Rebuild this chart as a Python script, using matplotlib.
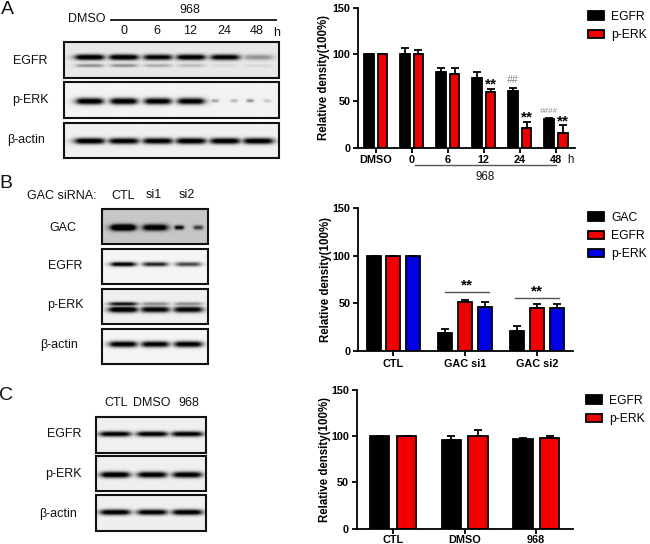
import numpy as np
import matplotlib
matplotlib.use('Agg')
import matplotlib.pyplot as plt
from matplotlib.patches import Rectangle

plt.rcParams['font.family'] = ['Liberation Sans', 'DejaVu Sans']

W, H = 650, 544
BLACK, RED, BLUE = '#000000', '#f00000', '#0000e6'

# ---------- bar chart data ----------
a_groups = ['DMSO', '0', '6', '12', '24', '48']
a_egfr = [100, 100, 81, 75, 61, 31]
a_egfr_err = [0, 7, 4, 6, 3, 1]
a_perk = [100, 100, 79, 60, 21, 16]
a_perk_err = [0, 5, 6, 3, 7, 8]

b_groups = ['CTL', 'GAC si1', 'GAC si2']
b_gac = [100, 19, 21]
b_gac_err = [0, 4, 5]
b_egfr = [100, 51, 45]
b_egfr_err = [0, 3, 4]
b_perk = [100, 46, 45]
b_perk_err = [0, 5, 4]

c_groups = ['CTL', 'DMSO', '968']
c_egfr = [100, 96, 96.5]
c_egfr_err = [0, 4, 2]
c_perk = [100, 100, 98]
c_perk_err = [0, 6.5, 2]

# ---------- blot band strengths (0-1), one per lane ----------
a_blot_egfr = [.98, .98, .88, .95, .9, .3]
a_blot_egfr_low = [.32, .32, .22, .16, .05, .06]
a_blot_perk = [.98, .98, .95, .95]
a_blot_perk_spots = [.3, .22, .35, .15]
a_blot_actin = [.95, .92, .92, .95, .95, .95]
b_blot_gac = [1.05, .85]
b_blot_gac_spots = [.7, .5]
b_blot_egfr = [.95, .75, .62]
b_blot_perk_up = [.8, .35, .35]
b_blot_perk = [1.0, .9, .9]
b_blot_actin = [.95, .92, .95]
c_blot_egfr = [.92, .92, .92]
c_blot_perk = [1.0, .95, .95]
c_blot_actin = [.95, .92, .95]

fig = plt.figure(figsize=(W / 100, H / 100), dpi=100)


def px_axes(l, t, r, b, **kw):
    return fig.add_axes([l / W, 1 - b / H, (r - l) / W, (b - t) / H], **kw)


ov = px_axes(0, 0, W, H)
ov.axis('off')


def blot(box, bands, bg=.96):
    """box: l,t,r,b px. bands: list of (y_px, lanes, strengths, lane_w, half_thickness)."""
    l, t, r, b = box
    xs = np.arange(l, r, .5)
    ys = np.arange(t, b, .5)
    dark = np.zeros((len(ys), len(xs)))
    for yc, lanes, strengths, lane_w, thick in bands:
        for xc, s in zip(lanes, strengths):
            prof_x = 1 / (1 + ((xs - xc) / (lane_w / 2)) ** 6)
            prof_y = np.exp(-((ys - yc) / thick) ** 2)
            dark = np.maximum(dark, 1.15 * s * np.outer(prof_y, prof_x))
    img = np.clip(bg - dark, 0, 1)
    ov.imshow(img, cmap='gray', vmin=0, vmax=1, extent=(l, r, b, t),
              interpolation='bilinear', aspect='auto', zorder=1)
    ov.add_patch(Rectangle((l, t), r - l, b - t, fill=False, ec='#111111',
                           lw=1.5, zorder=2))


a_lanes = [89, 123, 157, 190, 224, 257]
blot((63.5, 42, 279, 78),
     [(57, a_lanes, a_blot_egfr, 28, 2.8), (65.3, a_lanes, a_blot_egfr_low, 26, 1.7)], bg=.91)
blot((63.5, 82, 279, 118),
     [(101, a_lanes[:4], a_blot_perk, 26, 3.2),
      (100.5, [214, 233, 249, 266], a_blot_perk_spots, 7, 1.6)], bg=.95)
blot((63.5, 122.5, 279, 158), [(141, a_lanes, a_blot_actin, 29, 3.0)], bg=.94)

b_lanes = [123, 155, 188]
blot((102, 208.5, 208, 244),
     [(227.5, b_lanes[:2], b_blot_gac, 24, 3.2),
      (227.5, [179, 198], b_blot_gac_spots, 9, 2.2)], bg=.78)
blot((102, 249, 208, 284), [(264, b_lanes, b_blot_egfr, 24, 2.2)], bg=.96)
blot((102, 288.5, 208, 324),
     [(304, b_lanes, b_blot_perk_up, 27, 2.0), (309.5, b_lanes, b_blot_perk, 28, 3.0)], bg=.94)
blot((102, 329, 208, 364), [(344, b_lanes, b_blot_actin, 27, 3.0)], bg=.96)

c_lanes = [115, 152, 187]
blot((96, 417, 206, 452.5), [(434.5, c_lanes, c_blot_egfr, 30, 2.6)], bg=.94)
blot((96, 456, 206, 491), [(474.5, c_lanes, c_blot_perk, 28, 3.0)], bg=.94)
blot((96, 495, 206, 531), [(512, c_lanes, c_blot_actin, 29, 2.8)], bg=.94)

ov.set_xlim(0, W)
ov.set_ylim(H, 0)
ov.set_aspect('auto')


def t(x, y, s, size=9, ha='center', **kw):
    ov.text(x, y, s, fontsize=size, ha=ha, va='center', color='#111111', **kw)


for x, y, s in [(7, 10, 'A'), (6, 184, 'B'), (6, 395, 'C')]:
    t(x, y, s, size=14)

t(87, 19, 'DMSO')
t(190, 10, '968')
ov.plot([111, 276], [20, 20], color='#111111', lw=1.3)
for x, s in zip([124, 157, 190, 224, 257], a_groups[1:]):
    t(x, 31, s)
t(277, 33, 'h')
for x, y, s in [(30, 61, 'EGFR'), (30, 100, 'p-ERK'), (26, 139.5, 'β-actin')]:
    t(x, y, s)

t(62, 196, 'GAC siRNA:')
t(123, 196, 'CTL')
t(154, 194.5, 'si1')
t(187, 195.5, 'si2')
for x, y, s in [(63, 228, 'GAC'), (65, 266, 'EGFR'), (65, 305, 'p-ERK'), (59, 345, 'β-actin')]:
    t(x, y, s)

for x, s in [(116, 'CTL'), (152, 'DMSO'), (189, '968')]:
    t(x, 403, s)
for x, y, s in [(64, 434, 'EGFR'), (63, 474, 'p-ERK'), (58, 514, 'β-actin')]:
    t(x, y, s)


def bar_panel(box, groups, series, errors, colors, names, offset, width, xlim, ylabel_x, legend_xy, pad=2):
    ax = px_axes(*box)
    ax.patch.set_alpha(0)
    n = len(series)
    pos = np.arange(len(groups))
    for i, (vals, errs, col, name) in enumerate(zip(series, errors, colors, names)):
        ax.bar(pos + (i - (n - 1) / 2) * offset, vals, width, color=col, edgecolor='black',
               linewidth=1.3, yerr=[np.zeros(len(errs)), errs], label=name,
               error_kw=dict(ecolor='black', elinewidth=1.3, capsize=3, capthick=1.3))
    ax.set_xlim(*xlim)
    ax.set_ylim(0, 150)
    ax.set_yticks([0, 50, 100, 150])
    ax.set_xticks(pos)
    ax.set_xticklabels(groups)
    for s in ('top', 'right'):
        ax.spines[s].set_visible(False)
    for s in ('left', 'bottom'):
        ax.spines[s].set_linewidth(1.3)
    ax.tick_params(length=3.5, width=1.3, labelsize=7.8, pad=2)
    ax.tick_params(axis='x', pad=pad)
    for lab in ax.get_xticklabels() + ax.get_yticklabels():
        lab.set_fontweight('bold')
    ax.set_ylabel('Relative density(100%)', fontsize=8.3, fontweight='bold')
    ax.yaxis.set_label_coords((ylabel_x - box[0]) / (box[2] - box[0]), .5)
    h, l = ax.get_legend_handles_labels()
    ax.legend(h, l, loc='upper left', frameon=False, fontsize=8.7,
              bbox_to_anchor=(legend_xy[0] / W, 1 - legend_xy[1] / H),
              bbox_transform=fig.transFigure, borderpad=0, borderaxespad=0,
              handlelength=1.3, handleheight=.72, handletextpad=.62, labelspacing=.5)
    return ax


# Panel A
axA = bar_panel((358, 7.7, 575, 147.7), a_groups, [a_egfr, a_perk], [a_egfr_err, a_perk_err],
                [BLACK, RED], ['EGFR', 'p-ERK'], .375, .27, (-.49, 5.53), 330, (588, 11))
for i in (3, 4, 5):
    axA.text(i + .19, a_perk[i] + a_perk_err[i] - 3, '**', ha='center', va='bottom',
             fontsize=11, fontweight='bold')
for i, s, size in [(4, '##', 7.5), (5, '####', 5.8)]:
    axA.text(i - .19, a_egfr[i] + a_egfr_err[i] + 3, s, ha='center', va='bottom', fontsize=size,
             color='#8a8a8a', fontstyle='italic')
axA.plot([1.09, 5.01], [-18.5, -18.5], color='#555555', lw=1, clip_on=False)
axA.text(3.04, -31, '968', ha='center', va='center', fontsize=8.3, color='#111111', clip_on=False)
axA.text(5.4, -13, 'h', ha='center', va='center', fontsize=8.3, color='#111111', clip_on=False)

# Panel B
axB = bar_panel((358, 207.7, 573.3, 351.3), b_groups, [b_gac, b_egfr, b_perk],
                [b_gac_err, b_egfr_err, b_perk_err], [BLACK, RED, BLUE],
                ['GAC', 'EGFR', 'p-ERK'], .274, .195, (-.493, 2.507), 332, (588, 212))
for ly, lo, hi in [(62, .72, 1.33), (55.7, 1.695, 2.31)]:
    axB.plot([lo, hi], [ly, ly], color='#555555', lw=1)
    axB.text((lo + hi) / 2, ly - 1, '**', ha='center', va='bottom', fontsize=11, fontweight='bold')

# Panel C
axC = bar_panel((356.7, 390, 572.7, 528.7), c_groups, [c_egfr, c_perk], [c_egfr_err, c_perk_err],
                [BLACK, RED], ['EGFR', 'p-ERK'], .374, .27, (-.51, 2.51), 331, (586, 395), pad=1)

fig.savefig('out.png', dpi=100)
